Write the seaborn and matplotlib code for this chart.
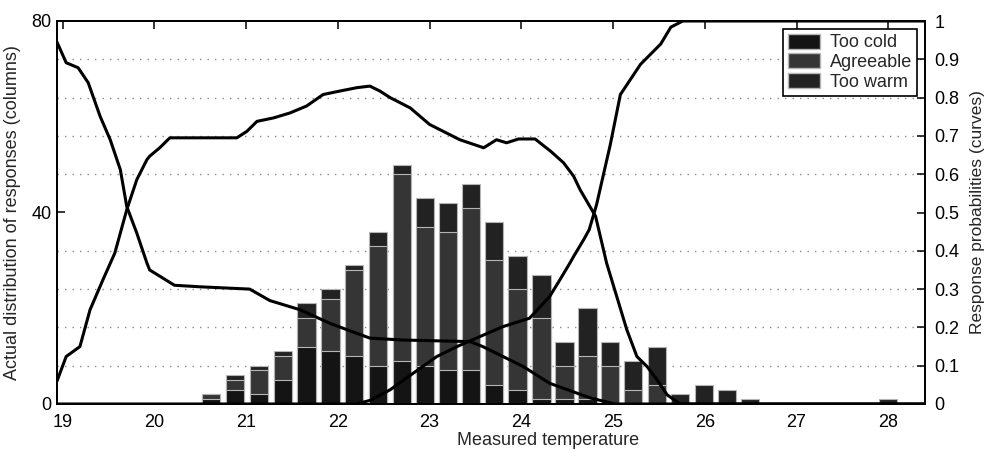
import numpy as np
import pandas as pd
import matplotlib
matplotlib.use("Agg")
import matplotlib.pyplot as plt
from matplotlib.patches import Patch
import seaborn as sns

# ---------------- data ----------------
bin_centers = [20.62, 20.88, 21.14, 21.40, 21.66, 21.92, 22.18, 22.44, 22.70, 22.95,
               23.20, 23.45, 23.70, 23.96, 24.22, 24.47, 24.72, 24.97, 25.22, 25.48,
               25.73, 25.99, 26.24, 26.49, 28.00]
too_cold  = [1, 3, 2, 5, 12, 11, 10, 8, 9, 8, 7, 7, 4, 3, 1, 1, 1, 0, 0, 0, 0, 0, 0, 0, 0]
agreeable = [1, 2, 5, 5, 6, 11, 18, 25, 39, 29, 29, 34, 26, 21, 17, 7, 9, 8, 3, 4, 0, 0, 0, 0, 0]
too_warm  = [0, 1, 1, 1, 3, 2, 1, 3, 2, 6, 6, 5, 8, 7, 9, 5, 10, 5, 6, 8, 2, 4, 3, 1, 1]

cold_x = [18.94, 19.04, 19.17, 19.28, 19.41, 19.52, 19.63, 19.70, 19.81, 19.92, 19.95,
          20.22, 20.50, 21.04, 21.26, 21.59, 21.92, 22.35, 22.71, 23.44, 23.58, 23.80,
          24.02, 24.31, 24.75, 25.02, 28.40]
cold_p = [0.945, 0.891, 0.878, 0.839, 0.751, 0.690, 0.612, 0.516, 0.446, 0.368, 0.350,
          0.310, 0.306, 0.300, 0.270, 0.246, 0.210, 0.172, 0.167, 0.163, 0.150, 0.124,
          0.098, 0.054, 0.016, 0.0, 0.0]

agree_x = [18.94, 19.04, 19.19, 19.30, 19.44, 19.57, 19.70, 19.81, 19.92, 19.95, 20.06,
           20.17, 20.90, 21.01, 21.12, 21.30, 21.48, 21.66, 21.84, 22.02, 22.21, 22.35,
           22.46, 22.57, 22.79, 23.00, 23.33, 23.59, 23.73, 23.84, 23.97, 24.15, 24.32,
           24.46, 24.57, 24.64, 24.81, 24.93, 25.04, 25.15, 25.26, 25.37, 25.48, 25.59,
           25.73, 28.40]
agree_p = [0.060, 0.124, 0.150, 0.246, 0.324, 0.394, 0.507, 0.586, 0.638, 0.647, 0.669,
           0.695, 0.695, 0.712, 0.738, 0.747, 0.760, 0.778, 0.808, 0.817, 0.826, 0.830,
           0.817, 0.800, 0.773, 0.730, 0.690, 0.669, 0.690, 0.682, 0.692, 0.692, 0.660,
           0.630, 0.595, 0.560, 0.490, 0.368, 0.281, 0.194, 0.124, 0.098, 0.063, 0.024,
           0.0, 0.0]

warm_x = [18.94, 22.20, 22.36, 22.57, 22.82, 23.08, 23.30, 23.51, 23.80, 24.09, 24.31,
          24.42, 24.53, 24.57, 24.68, 24.74, 24.82, 24.97, 25.08, 25.30, 25.52, 25.63,
          25.76, 28.40]
warm_p = [0.0, 0.0, 0.010, 0.037, 0.080, 0.124, 0.150, 0.172, 0.202, 0.224, 0.281,
          0.324, 0.368, 0.385, 0.429, 0.455, 0.520, 0.677, 0.808, 0.887, 0.940, 0.984,
          1.0, 1.0]

right_ticks = [0, 0.1, 0.2, 0.3, 0.4, 0.5, 0.6, 0.7, 0.8, 0.9, 1]
right_ticklabels = ["0", "0.1", "0.2", "0.3", "0.4", "0.5", "0.6", "0.7", "0.8", "0.9", "1"]
left_ticks = [0, 40, 80]
x_ticks = [19, 20, 21, 22, 23, 24, 25, 26, 27, 28]

# ---------------- styling ----------------
sns.set_theme(style="white")
plt.rcParams['font.family'] = ['Liberation Sans', 'DejaVu Sans']
FS = 13

c_cold = "#141414"
c_agree = "#353535"
c_warm = "#222222"
sep = "#b5b5b5"

fig = plt.figure(figsize=(9.84, 4.5), dpi=100)
ax = fig.add_axes([57 / 984, 1 - 404 / 450, (925 - 57) / 984, (404 - 21) / 450])

df = pd.DataFrame({"t": bin_centers, "cold": too_cold, "agree": agreeable, "warm": too_warm})
df["lvl1"] = df["cold"]
df["lvl2"] = df["cold"] + df["agree"]
df["lvl3"] = df["lvl2"] + df["warm"]

for col, c in [("lvl3", c_warm), ("lvl2", c_agree), ("lvl1", c_cold)]:
    sns.barplot(data=df, x="t", y=col, native_scale=True, width=0.8, color=c,
                saturation=1, edgecolor=sep, linewidth=0.8, errorbar=None, ax=ax)

# dotted horizontal grid (every 0.1 of the right axis)
grid_levels = [8, 16, 24, 32, 40, 48, 56, 64, 72]
ax.set_yticks(grid_levels, minor=True)
ax.grid(False)
ax.grid(True, which="minor", axis="y", color="#8a8a8a", linestyle=(0, (1, 4.4)), linewidth=1.0)
ax.set_axisbelow(True)

ax.set_xlim(18.94, 28.40)
ax.set_ylim(0, 80)
ax.set_xticks(x_ticks)
ax.set_xticklabels([str(v) for v in x_ticks], fontsize=FS)
ax.set_yticks(left_ticks)
ax.set_yticklabels([str(v) for v in left_ticks], fontsize=FS)
ax.tick_params(axis="both", which="major", direction="in", length=6, width=1.1,
               top=True, right=False, colors="black", pad=4)
ax.tick_params(axis="x", pad=7)
ax.tick_params(axis="y", which="minor", length=0)
ax.set_xlabel("Measured temperature", fontsize=FS)
ax.xaxis.set_label_coords(0.566, -0.072)
ax.set_ylabel("Actual distribution of responses (columns)", fontsize=FS)
ax.yaxis.set_label_coords(-0.041, 0.5)

# right axis with probability curves
ax2 = ax.twinx()
for xs, ps in [(cold_x, cold_p), (agree_x, agree_p), (warm_x, warm_p)]:
    sns.lineplot(x=xs, y=ps, ax=ax2, color="black", linewidth=2.2, sort=False)
ax2.set_ylim(0, 1)
ax2.set_xlim(18.94, 28.40)
ax2.set_yticks(right_ticks)
ax2.set_yticklabels(right_ticklabels, fontsize=FS)
ax2.tick_params(axis="y", direction="in", length=6, width=1.1, colors="black", pad=7)
ax2.set_ylabel("Response probabilities (curves)", fontsize=12.5)
ax2.yaxis.set_label_coords(1.052, 0.5)
ax2.grid(False)

for a in (ax, ax2):
    for s in a.spines.values():
        s.set_color("black")
        s.set_linewidth(1.3)

handles = [Patch(facecolor=c_cold, edgecolor=sep, label="Too cold"),
           Patch(facecolor=c_agree, edgecolor=sep, label="Agreeable"),
           Patch(facecolor=c_warm, edgecolor=sep, label="Too warm")]
leg = ax2.legend(handles=handles, loc="upper right",
                 bbox_to_anchor=(1 - 8 / 868, 1 - 8 / 383), borderaxespad=0,
                 fontsize=FS, frameon=True, fancybox=False, framealpha=1,
                 edgecolor="black", borderpad=0.25, labelspacing=0.12,
                 handlelength=1.8, handleheight=0.9, handletextpad=0.55)
leg.get_frame().set_linewidth(1.2)

fig.savefig("out.png", dpi=100)
